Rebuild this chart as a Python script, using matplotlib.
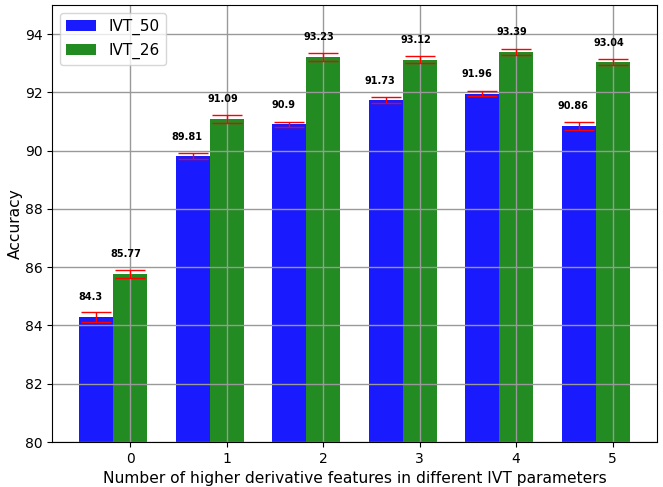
import numpy as np
import matplotlib.pyplot as plt

n_features = [0, 1, 2, 3, 4, 5]
acc_ivt50 = [84.3, 89.81, 90.9, 91.73, 91.96, 90.86]
acc_ivt26 = [85.77, 91.09, 93.23, 93.12, 93.39, 93.04]
err_ivt50 = [0.17, 0.1, 0.1, 0.1, 0.08, 0.14]
err_ivt26 = [0.13, 0.15, 0.14, 0.12, 0.09, 0.11]

x = np.arange(len(n_features))
width = 0.35

fig, ax = plt.subplots(figsize=(6.63, 4.87), dpi=100)
# IVT_50 sits left of the tick, IVT_26 centred on it
ax.bar(x - width, acc_ivt50, width, color='#1a1aff', label='IVT_50',
       yerr=err_ivt50, error_kw=dict(ecolor='red', capsize=11, elinewidth=1, capthick=1))
ax.bar(x, acc_ivt26, width, color='forestgreen', label='IVT_26',
       yerr=err_ivt26, error_kw=dict(ecolor='red', capsize=11, elinewidth=1, capthick=1))

for i in range(len(x)):
    ax.text(x[i] - width - 0.06, acc_ivt50[i] + 0.5, str(acc_ivt50[i]),
            ha='center', va='bottom', fontsize=7, fontweight='bold')
    ax.text(x[i] - 0.04, acc_ivt26[i] + 0.5, str(acc_ivt26[i]),
            ha='center', va='bottom', fontsize=7, fontweight='bold')

ax.set_xticks(x)
ax.set_xticklabels([str(n) for n in n_features])
ax.set_ylim(80, 95)
ax.set_yticks(np.arange(80, 95, 2))
ax.set_xlabel('Number of higher derivative features in different IVT parameters', fontsize=11.2)
ax.set_ylabel('Accuracy', fontsize=11.2, labelpad=1)
ax.grid(True, color='#999999', linewidth=1)
ax.legend(loc='upper left', fontsize=11)

plt.subplots_adjust(left=0.0784, right=0.991, top=0.9897, bottom=0.0924)
plt.savefig('out.png', dpi=100)
